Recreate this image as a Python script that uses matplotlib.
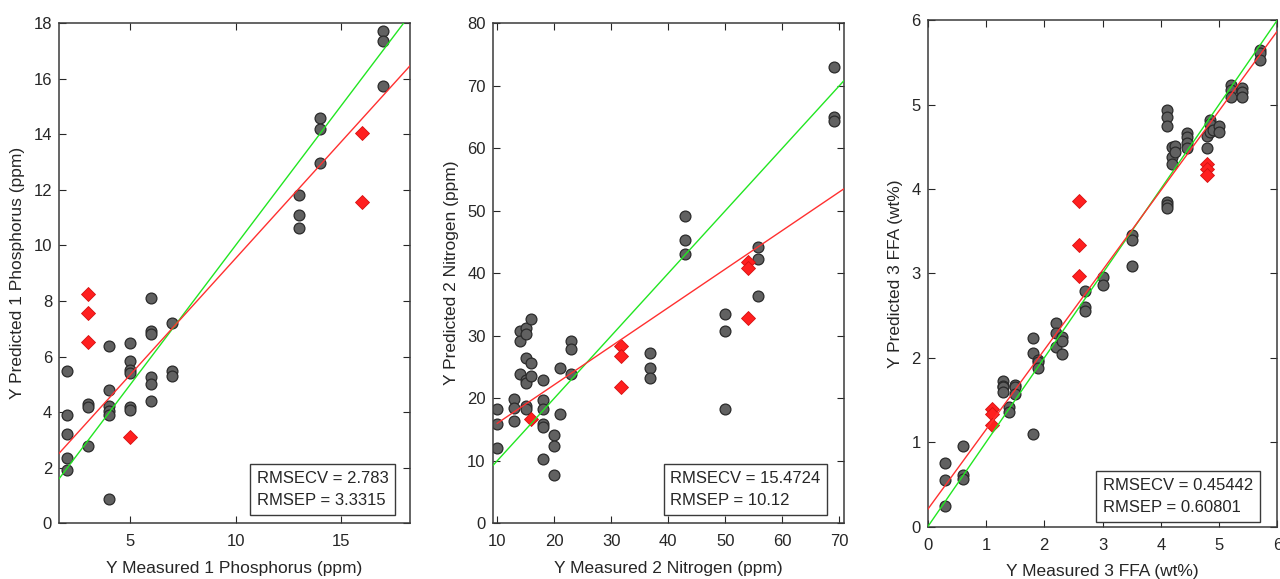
import numpy as np
import matplotlib
matplotlib.use("Agg")
from matplotlib import pyplot as plt

plt.rcParams['font.family'] = ['Liberation Sans', 'DejaVu Sans']

# ---- panel 1: Phosphorus (ppm) ----
p_cal_x = [2, 2, 2, 2, 2, 3, 3, 3, 4, 4, 4, 4, 4, 4, 5, 5, 5, 5, 5, 5,
           6, 6, 6, 6, 6, 6, 7, 7, 7, 13, 13, 13, 14, 14, 14, 17, 17, 17]
p_cal_y = [5.48, 3.91, 3.20, 2.34, 1.92, 4.28, 4.17, 2.78, 6.39, 4.80, 4.22, 4.04, 3.90, 0.87,
           6.50, 5.84, 5.51, 5.42, 4.19, 4.08, 8.09, 6.93, 6.81, 5.27, 5.00, 4.40,
           7.19, 5.49, 5.30, 11.83, 11.09, 10.61, 14.60, 14.17, 12.95, 17.70, 17.35, 15.73]
p_val_x = [3, 3, 3, 5, 16, 16]
p_val_y = [8.25, 7.58, 6.53, 3.12, 14.03, 11.55]

# ---- panel 2: Nitrogen (ppm) ----
n_cal_x = [10, 10, 10, 13, 13, 13, 14, 14, 14, 15, 15, 15, 15, 15, 15, 15,
           16, 16, 16, 18, 18, 18, 18, 18, 18, 20, 20, 20, 21, 21, 23, 23, 23,
           36.7, 36.7, 36.7, 43, 43, 43, 50, 50, 50, 55.7, 55.7, 55.7, 69, 69, 69]
n_cal_y = [18.3, 15.9, 12.1, 19.8, 18.5, 16.3, 30.8, 29.1, 23.9, 31.2, 30.3, 26.4, 22.9, 22.4, 18.8, 18.3,
           32.6, 25.6, 23.5, 22.9, 19.7, 18.3, 15.9, 15.4, 10.3, 14.2, 12.4, 7.7, 24.8, 17.5, 29.1, 27.9, 23.8,
           27.2, 24.9, 23.3, 49.1, 45.3, 43.1, 33.4, 30.8, 18.3, 44.2, 42.3, 36.4, 72.9, 64.9, 64.3]
n_val_x = [16, 31.7, 31.7, 31.7, 54, 54, 54]
n_val_y = [16.6, 28.4, 26.8, 21.8, 41.8, 40.8, 32.8]

# ---- panel 3: FFA (wt%) ----
f_cal_x = [0.3, 0.3, 0.3, 0.6, 0.6, 0.6, 1.3, 1.3, 1.3, 1.3, 1.4, 1.4, 1.5, 1.5, 1.5,
           1.8, 1.8, 1.8, 1.9, 1.9, 1.9, 2.2, 2.2, 2.2, 2.3, 2.3, 2.3, 2.7, 2.7, 2.7,
           3.0, 3.0, 3.5, 3.5, 3.5, 4.1, 4.1, 4.1, 4.1, 4.1, 4.1, 4.2, 4.2, 4.2, 4.25, 4.25,
           4.45, 4.45, 4.45, 4.45, 4.8, 4.8, 4.85, 4.85, 4.85, 4.9, 5.0, 5.0,
           5.2, 5.2, 5.2, 5.4, 5.4, 5.4, 5.7, 5.7, 5.7]
f_cal_y = [0.76, 0.55, 0.25, 0.96, 0.61, 0.56, 1.73, 1.67, 1.65, 1.59, 1.42, 1.36, 1.68, 1.65, 1.57,
           2.23, 2.06, 1.10, 1.98, 1.95, 1.88, 2.41, 2.30, 2.13, 2.25, 2.20, 2.05, 2.79, 2.60, 2.56,
           2.96, 2.86, 3.45, 3.39, 3.09, 4.93, 4.85, 4.75, 3.85, 3.81, 3.77, 4.38, 4.30, 4.50, 4.51, 4.44,
           4.66, 4.61, 4.55, 4.48, 4.63, 4.49, 4.82, 4.77, 4.67, 4.70, 4.74, 4.68,
           5.23, 5.17, 5.09, 5.20, 5.15, 5.09, 5.65, 5.61, 5.53]
f_val_x = [1.1, 1.1, 1.1, 2.6, 2.6, 2.6, 4.8, 4.8, 4.8]
f_val_y = [1.39, 1.34, 1.20, 3.86, 3.34, 2.97, 4.29, 4.24, 4.16]

panels = [
    dict(cx=p_cal_x, cy=p_cal_y, vx=p_val_x, vy=p_val_y,
         slope=0.835, icpt=1.18, red_from=1.6,
         xlim=(1.6, 18.3), ylim=(0, 18), xticks=[5, 10, 15], yticks=range(0, 19, 2),
         xlabel='Y Measured 1 Phosphorus (ppm)', ylabel='Y Predicted 1 Phosphorus (ppm)',
         rmsecv='2.783', rmsep='3.3315', boxpos=(0.563, 0.030),
         pos=[0.0461, 0.0962, 0.2742, 0.864]),
    dict(cx=n_cal_x, cy=n_cal_y, vx=n_val_x, vy=n_val_y,
         slope=0.617, icpt=9.82, red_from=10,
         xlim=(9.2, 70.8), ylim=(0, 80), xticks=range(10, 71, 10), yticks=range(0, 81, 10),
         xlabel='Y Measured 2 Nitrogen (ppm)', ylabel='Y Predicted 2 Nitrogen (ppm)',
         rmsecv='15.4724', rmsep='10.12', boxpos=(0.5055, 0.030),
         pos=[0.3849, 0.0962, 0.2745, 0.864]),
    dict(cx=f_cal_x, cy=f_cal_y, vx=f_val_x, vy=f_val_y,
         slope=0.944, icpt=0.206, red_from=0,
         xlim=(0, 6), ylim=(0, 6), xticks=range(0, 7), yticks=range(0, 7),
         xlabel='Y Measured 3 FFA (wt%)', ylabel='Y Predicted 3 FFA (wt%)',
         rmsecv='0.45442', rmsep='0.60801', boxpos=(0.5006, 0.023),
         pos=[0.7248, 0.0903, 0.2731, 0.875]),
]

txt = '#262626'
fig = plt.figure(figsize=(12.8, 5.79), dpi=100)

for p in panels:
    ax = fig.add_axes(p['pos'])
    ax.plot(p['cx'], p['cy'], 'o', ms=7.8, mfc='#616161', mec='#2a2a2a', mew=0.9, zorder=2)
    ax.plot(p['vx'], p['vy'], 'D', ms=7.4, mfc='#ff1f1f', mec='#d41010', mew=0.6, zorder=2)

    # ideal line y = x and fitted regression line
    gx = np.array(p['xlim'])
    ax.plot(gx, gx, color='#22e622', lw=1.0, zorder=3)
    rx = np.array([p['red_from'], p['xlim'][1]])
    ax.plot(rx, p['slope'] * rx + p['icpt'], color='#ff3030', lw=1.0, zorder=3)

    ax.set_xlim(p['xlim'])
    ax.set_ylim(p['ylim'])
    ax.set_xticks(list(p['xticks']))
    ax.set_yticks(list(p['yticks']))
    ax.tick_params(direction='in', top=True, right=True, length=5, width=0.8,
                   colors=txt, labelsize=12)
    ax.tick_params(axis='x', pad=8)
    ax.tick_params(axis='y', pad=5)
    for s in ax.spines.values():
        s.set_color('#3a3a3a')
        s.set_linewidth(1.1)
    ax.set_xlabel(p['xlabel'], fontsize=12.5, color=txt, labelpad=8)
    ax.set_ylabel(p['ylabel'], fontsize=12.5, color=txt, labelpad=6)

    ax.text(p['boxpos'][0], p['boxpos'][1],
            'RMSECV = %s\nRMSEP = %s' % (p['rmsecv'], p['rmsep']),
            transform=ax.transAxes, ha='left', va='bottom', fontsize=12,
            color=txt, linespacing=1.6, zorder=5,
            bbox=dict(boxstyle='square,pad=0.4', fc='white', ec='#3a3a3a', lw=1.0))

fig.savefig('out.png', dpi=100)
